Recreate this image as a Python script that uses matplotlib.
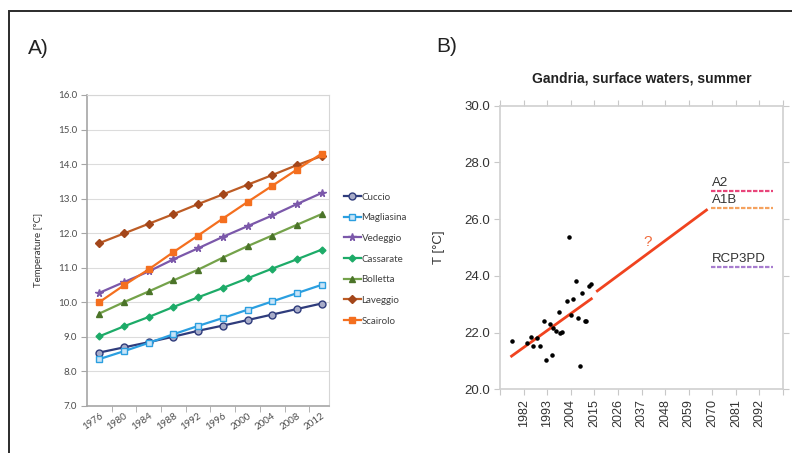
import matplotlib
matplotlib.use("Agg")
import matplotlib.pyplot as plt
from matplotlib.patches import Rectangle
import numpy as np

# ---------------- Panel A data ----------------
years_a = ["1976", "1980", "1984", "1988", "1992", "1996", "2000", "2004", "2008", "2012"]
cuccio = [8.54, 8.69, 8.84, 9.00, 9.17, 9.32, 9.48, 9.64, 9.80, 9.96]
magliasina = [8.35, 8.58, 8.82, 9.07, 9.31, 9.54, 9.78, 10.02, 10.26, 10.50]
vedeggio = [10.27, 10.58, 10.89, 11.24, 11.56, 11.89, 12.20, 12.51, 12.84, 13.16]
cassarate = [9.01, 9.30, 9.57, 9.86, 10.14, 10.41, 10.69, 10.97, 11.24, 11.52]
bolletta = [9.67, 10.00, 10.31, 10.63, 10.94, 11.29, 11.62, 11.93, 12.24, 12.55]
laveggio = [11.71, 11.99, 12.27, 12.55, 12.84, 13.12, 13.40, 13.68, 13.97, 14.23]
scairolo = [10.00, 10.49, 10.95, 11.45, 11.93, 12.42, 12.90, 13.37, 13.84, 14.30]
series_names = ["Cuccio", "Magliasina", "Vedeggio", "Cassarate", "Bolletta", "Laveggio", "Scairolo"]

# ---------------- Panel B data ----------------
obs_year = [1976.4, 1983.4, 1985.4, 1986.2, 1988.3, 1989.5, 1991.6, 1992.4, 1994.2, 1995.3,
            1995.7, 1997.3, 1998.4, 1998.9, 2000.1, 2002.3, 2003.2, 2004.2, 2005.2, 2006.3,
            2007.4, 2008.5, 2009.4, 2010.5, 2011.3, 2012.5, 2013.3]
obs_temp = [21.71, 21.62, 21.83, 21.52, 21.81, 21.52, 22.41, 21.03, 22.32, 21.22,
            22.15, 22.05, 22.72, 21.99, 22.02, 23.11, 25.38, 22.61, 23.20, 23.82,
            22.50, 20.83, 23.39, 22.41, 22.41, 23.64, 23.71]
trend_obs_year = [1976.4, 2013.6]
trend_obs_temp = [21.17, 23.19]
trend_proj_year = [2016.4, 2067.3]
trend_proj_temp = [23.47, 26.32]
scenario_names = ["A2", "A1B", "RCP3PD"]
scenario_temp = [27.0, 26.4, 24.3]
scenario_span = [2069.5, 2098.3]
b_ticks = [1971 + 11 * k for k in range(13)]
b_ticklabels = [""] + [str(y) for y in b_ticks[1:-1]] + [""]

W, H = 792, 453
fig = plt.figure(figsize=(W / 100, H / 100), dpi=100)

def fx(px):
    return px / W

def fy(py):
    return 1 - py / H

# Figure frame
fig.patches.append(Rectangle((fx(9), -0.1), 1.2, fy(11) + 0.1, transform=fig.transFigure,
                             fill=False, edgecolor="#2b2b2b", lw=1.4))

# ---------------- Panel A ----------------
axA = fig.add_axes([fx(87), fy(405.7), fx(329) - fx(87), fy(95) - fy(405.7)])
fA = "Lato"
styles = [
    dict(color="#2f3c7c", marker="o", ms=5, mfc="#a7abc8", mec="#2f3c7c"),
    dict(color="#2b9fe0", marker="s", ms=5, mfc="#c8e4f7", mec="#2b9fe0"),
    dict(color="#7b58aa", marker="*", ms=5.5, mfc="#7b58aa", mec="#7b58aa"),
    dict(color="#1dab68", marker="D", ms=3.5, mfc="#1dab68", mec="#1dab68"),
    dict(color="#74a24a", marker="^", ms=5, mfc="#4b7429", mec="#4b7429"),
    dict(color="#bd5c25", marker="D", ms=4, mfc="#a3461a", mec="#a3461a"),
    dict(color="#f46f1f", marker="s", ms=5, mfc="#f46f1f", mec="#f46f1f"),
]
xs = np.arange(len(years_a))
for name, vals, st in zip(series_names, [cuccio, magliasina, vedeggio, cassarate, bolletta, laveggio, scairolo], styles):
    axA.plot(xs, vals, lw=1.6, label=name, zorder=3, **st)

axA.set_xlim(-0.5, 9.3)
axA.set_ylim(7, 16)
axA.set_yticks(np.arange(7, 16.01, 1))
axA.set_yticklabels([f"{v:.1f}" for v in np.arange(7, 16.01, 1)], fontfamily=fA, fontsize=7, color="#4d4d4d")
axA.set_xticks(xs)
axA.set_xticklabels(years_a, rotation=35, ha="right", rotation_mode="anchor",
                    fontfamily=fA, fontsize=7, color="#4d4d4d")
axA.set_xticks(xs[:-1] + 0.5, minor=True)
axA.tick_params(axis="x", which="major", length=0, pad=4)
axA.tick_params(axis="x", which="minor", length=4, color="#a6a6a6", direction="out")
axA.tick_params(axis="y", length=4, color="#a6a6a6", direction="out", pad=3)
axA.grid(axis="y", color="#dcdcdc", lw=0.8)
axA.set_axisbelow(True)
for s in ["top", "right"]:
    axA.spines[s].set_color("#d6d6d6")
for s in ["left", "bottom"]:
    axA.spines[s].set_color("#a6a6a6")
    axA.spines[s].set_linewidth(1.2)
axA.set_ylabel("Temperature [°C]", fontfamily=fA, fontsize=7, color="#333333", labelpad=11)

leg = fig.legend(loc="center left", bbox_to_anchor=(fx(344), fy(259)), frameon=False,
                 prop=dict(family=fA, size=7), handlelength=1.7, handletextpad=0.1,
                 labelspacing=1.2, borderpad=0, borderaxespad=0)
for t in leg.get_texts():
    t.set_color("#404040")

fig.text(fx(28), fy(48), "A)", fontsize=15, fontfamily="Liberation Sans", color="#222222", va="center")
fig.text(fx(436), fy(47), "B)", fontsize=15, fontfamily="Liberation Sans", color="#222222", va="center")

# ---------------- Panel B ----------------
fB = "Liberation Sans"
axB = fig.add_axes([fx(500), fy(389.3), fx(783) - fx(500), fy(105.7) - fy(389.3)])
axB.scatter(obs_year, obs_temp, s=5, color="black", zorder=3)
axB.plot(trend_obs_year, trend_obs_temp, color="#f0431f", lw=2)
axB.plot(trend_proj_year, trend_proj_temp, color="#f0431f", lw=2)
axB.text(2040, 25.2, "?", color="#f06a3a", fontsize=11, fontfamily=fB, ha="center", va="center")
sc_colors = ["#e8457a", "#f5a25e", "#a77ccf"]
for nm, t, c in zip(scenario_names, scenario_temp, sc_colors):
    axB.plot(scenario_span, [t, t], color=c, lw=1.6, ls=(0, (2.0, 0.7)))
    axB.text(scenario_span[0] + 0.4, t + 0.08, nm, fontsize=9.5, fontfamily=fB, color="#333333",
             ha="left", va="bottom")
axB.set_xlim(b_ticks[0], b_ticks[-1])
axB.set_ylim(20, 30)
axB.set_xticks(b_ticks)
axB.set_xticklabels(b_ticklabels, rotation=90, fontfamily=fB, fontsize=9, color="#333333")
axB.set_yticks(np.arange(20, 30.01, 2))
axB.set_yticklabels([f"{v:.1f}" for v in np.arange(20, 30.01, 2)], fontfamily=fB, fontsize=9.5, color="#333333")
axB.tick_params(length=4, color="#c8c8c8", direction="out", top=True, right=True, pad=3)
for s in axB.spines.values():
    s.set_color("#d0d0d0")
    s.set_linewidth(1.2)
axB.set_ylabel("T [°C]", fontfamily=fB, fontsize=9.5, color="#333333", labelpad=14)
axB.set_title("Gandria, surface waters, summer", fontfamily=fB, fontsize=10, fontweight="bold",
              color="#222222", pad=17)

fig.savefig("out.png", dpi=100)
